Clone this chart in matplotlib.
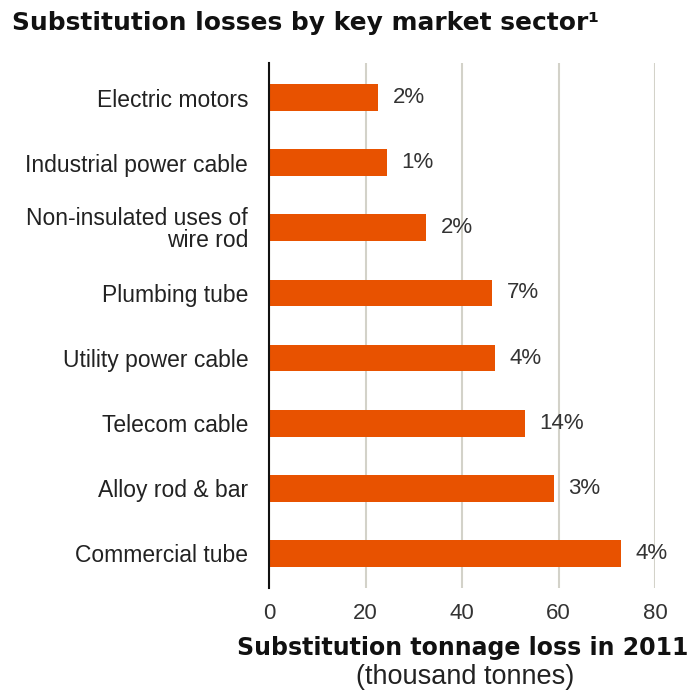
import matplotlib
matplotlib.use("Agg")
from matplotlib import pyplot as plt

plt.rcParams["font.family"] = ["Liberation Sans", "DejaVu Sans"]

# data
sectors = ["Electric motors", "Industrial power cable", "Non-insulated uses of\nwire rod",
           "Plumbing tube", "Utility power cable", "Telecom cable",
           "Alloy rod & bar", "Commercial tube"]
losses = [22.6, 24.4, 32.6, 46.2, 46.8, 53.0, 59.0, 72.9]
shares = ["2%", "1%", "2%", "7%", "4%", "14%", "3%", "4%"]
xticks = [0, 20, 40, 60, 80]

fig = plt.figure(figsize=(6.92, 6.94), dpi=100)
ax = fig.add_axes([269 / 692, 1 - 588 / 694, (655 - 269) / 692, (588 - 63) / 694])

ypos = list(range(len(sectors)))
ax.barh(ypos, losses, height=0.41, color="#e85200", zorder=3)

for y, v, s in zip(ypos, losses, shares):
    ax.text(v + 3, y, s, va="center", ha="left", fontsize=16, color="#333333")

ax.set_ylim(7.53, -0.53)
ax.set_xlim(0, 80)
ax.set_yticks(ypos)
ax.set_yticklabels(sectors, fontsize=16.5, color="#222222", linespacing=0.95)
ax.set_xticks(xticks)
ax.set_xticklabels([str(t) for t in xticks], fontsize=16, color="#333333")
ax.tick_params(axis="x", length=0, pad=11)
ax.tick_params(axis="y", length=0, pad=15)

ax.grid(axis="x", color="#d3d2c9", linewidth=1.5, zorder=0)
for side in ["top", "right", "bottom"]:
    ax.spines[side].set_visible(False)
ax.spines["left"].set_linewidth(1.5)
ax.spines["left"].set_color("#111111")
ax.spines["left"].set_zorder(4)

fig.text(463 / 692, 1 - 648 / 694, "Substitution tonnage loss in 2011", ha="center", va="center",
         fontsize=17, fontweight="bold", color="#111111", family="DejaVu Sans")
fig.text(465 / 692, 1 - 677 / 694, "(thousand tonnes)", ha="center", va="center",
         fontsize=19.5, color="#222222")
fig.text(12 / 692, 1 - 23 / 694, "Substitution losses by key market sector\u00b9", ha="left", va="center",
         fontsize=17.9, fontweight="bold", color="#111111", family="DejaVu Sans")

plt.savefig("out.png", dpi=100)
